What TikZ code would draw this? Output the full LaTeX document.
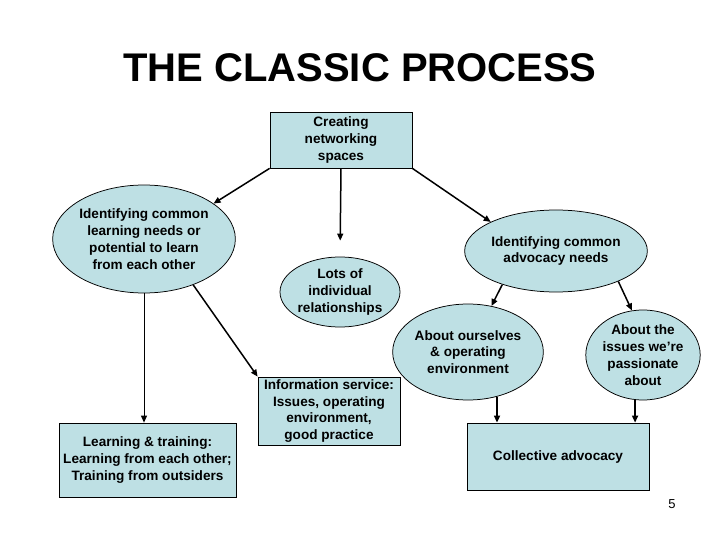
\documentclass[tikz,border=0pt]{standalone}
\usepackage{fontspec}
\setmainfont{Liberation Sans}
\usetikzlibrary{shapes.geometric,arrows.meta}
\definecolor{paleblue}{RGB}{190,224,228}
\tikzset{every picture/.style={line width=0.75pt}}
\tikzset{
  boxnode/.style={draw,fill=paleblue,inner sep=0pt,align=center,font=\bfseries\fontsize{13.6}{16.8}\selectfont},
  ovalnode/.style={ellipse,draw,fill=paleblue,inner sep=0pt,align=center,font=\bfseries\fontsize{13.6}{16.8}\selectfont},
  arr/.style={-{Triangle[length=7pt,width=6pt]},line width=1.5pt},
  thinarr/.style={-{Triangle[length=7pt,width=6pt]},line width=0.9pt}
}
\begin{document}
\begin{tikzpicture}[x=1pt,y=1pt,yscale=-1,xscale=1]
		\useasboundingbox (0,0) rectangle (720,540);
		
		% Title
		\node (title) at (360,68) {\fontsize{40}{44}\selectfont\bfseries THE CLASSIC PROCESS};
		
		% Boxes
		\node[boxnode,minimum width=142,minimum height=56] (create) at (341,140) {Creating\\networking\\spaces};
		\node[boxnode,minimum width=177,minimum height=74] (learn) at (147.5,460) {Learning \& training:\\Learning from each other;\\Training from outsiders};
		\node[boxnode,minimum width=142,minimum height=68] (info) at (329,411) {Information service:\\Issues, operating\\environment,\\good practice};
		\node[boxnode,minimum width=182,minimum height=67] (coll) at (558,456.5) {Collective advocacy};
		
		% Ellipses
		\node[ovalnode,minimum width=158,minimum height=108] (needs) at (144,239) {Identifying common\\learning needs or\\potential to learn\\from each other};
		\node[ovalnode,minimum width=120,minimum height=70] (lots) at (340,292) {Lots of\\individual\\relationships};
		\node[ovalnode,minimum width=152,minimum height=82] (advo) at (556,251) {Identifying common\\advocacy needs};
		\node[ovalnode,minimum width=124,minimum height=96] (self) at (468,352) {About ourselves\\\& operating\\environment};
		\node[ovalnode,minimum width=114,minimum height=90] (issues) at (643,355) {About the\\issues we’re\\passionate\\about};
		
		% Connectors
		\draw[arr] (create.south west) -- (needs.27);
		\draw[arr,shorten >=16pt] (create.south) -- (lots.north);
		\draw[arr] (create.south east) -- (advo.156);
		\draw[thinarr] (needs.south) -- (needs.south |- learn.north);
		\draw[arr] (needs.-43) -- (info.north west);
		\draw[arr] (advo.212) -- (self.63);
		\draw[arr] (advo.334) -- (issues.104);
		\draw[arr] (self.-57) -- (self.-57 |- coll.north);
		\draw[arr] (issues.-100) -- (issues.-100 |- coll.north);
		
		% Text Node
		\node (page) at (672,504) {\fontsize{13}{15}\selectfont 5};
		
\end{tikzpicture}
\end{document}
